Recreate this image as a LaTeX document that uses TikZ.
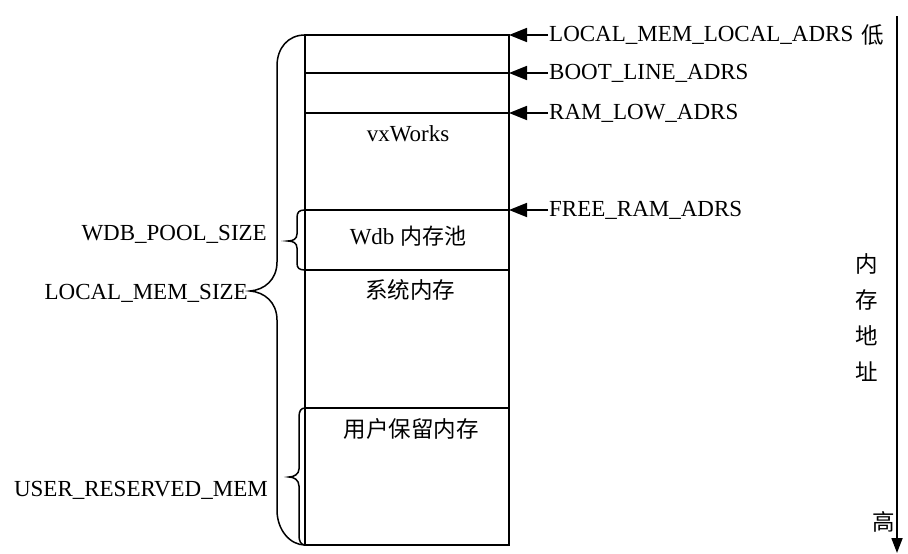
\documentclass[tikz,border=0pt]{standalone}
\usepackage{fontspec}
\setmainfont{Liberation Serif}
\newfontfamily\cjk{Noto Sans CJK SC}
\usetikzlibrary{arrows.meta}
\begin{document}
\begin{tikzpicture}[x=1pt,y=-1pt,
  mem/.style={line width=1.8pt},
  ptr/.style={line width=1.8pt,-{Triangle[length=18pt,width=14pt]}},
  axis/.style={line width=1.8pt,-{Triangle[length=15pt,width=11pt]}},
  lbl/.style={font=\fontsize{23}{26}\selectfont, inner sep=1pt},
  zh/.style={font=\fontsize{22.5}{36}\selectfont\cjk, inner sep=0pt},
  brace/.style={line width=1.5pt}]
\useasboundingbox (0,0) rectangle (908,554);
% memory column
\coordinate (tl) at (305,35);
\coordinate (tr) at (509,35);
\coordinate (bl) at (305,545);
\coordinate (br) at (509,545);
\draw[mem] (tl) -- (tr) -- (br) -- (bl) -- cycle;
\coordinate (bootL) at (305,73);  \coordinate (bootR) at (509,73);
\coordinate (ramL) at (305,113);  \coordinate (ramR) at (509,113);
\coordinate (freeL) at (305,210); \coordinate (freeR) at (509,210);
\coordinate (wdbL) at (305,270);  \coordinate (wdbR) at (509,270);
\coordinate (usrL) at (305,408);  \coordinate (usrR) at (509,408);
\draw[mem] (bootL) -- (bootR);
\draw[mem] (ramL) -- (ramR);
\draw[mem] (freeL) -- (freeR);
\draw[mem] (wdbL) -- (wdbR);
\draw[mem] (usrL) -- (usrR);
% region texts
\node[lbl] (vx) at (408,134) {vxWorks};
\node[lbl] (wdb) at (408,236) {Wdb {\cjk\fontsize{22}{24}\selectfont 内存池}};
\node[zh] (sys) at (410,290) {系统内存};
\node[zh] (usr) at (411,429) {用户保留内存};
% pointer labels
\node[lbl,anchor=west] (L1) at (548,35) {LOCAL\_MEM\_LOCAL\_ADRS};
\node[lbl,anchor=west] (L2) at (548,73) {BOOT\_LINE\_ADRS};
\node[lbl,anchor=west] (L3) at (548,113) {RAM\_LOW\_ADRS};
\node[lbl,anchor=west] (L4) at (548,210) {FREE\_RAM\_ADRS};
\draw[ptr] (L1.west) -- (tr);
\draw[ptr] (L2.west) -- (bootR);
\draw[ptr] (L3.west) -- (ramR);
\draw[ptr] (L4.west) -- (freeR);
% address axis
\coordinate (ax0) at (897,16);
\coordinate (ax1) at (897,553);
\draw[axis] (ax0) -- (ax1);
\node[zh] (low) at (873,35) {低};
\node[zh] (high) at (884,522) {高};
\node[zh,align=center] (addr) at (867,318) {内\\存\\地\\址};
% braces
\draw[brace] (tl) .. controls (288,35) and (277,48) .. (277,66)
  -- (277,262) .. controls (277,280) and (264,290) .. (250,291)
  .. controls (264,292) and (277,302) .. (277,320)
  -- (277,510) .. controls (277,530) and (290,545) .. (bl);
\draw[brace] (freeL) .. controls (299,210) and (297,212) .. (297,218)
  -- (297,234) .. controls (297,239) and (293,241) .. (288,241)
  .. controls (293,241) and (297,243) .. (297,248)
  -- (297,263) .. controls (297,268) and (299,270) .. (wdbL);
\draw[brace] (usrL) .. controls (301,408) and (299,411) .. (299,417)
  -- (299,469) .. controls (299,474) and (294,477) .. (289,477)
  .. controls (294,477) and (299,480) .. (299,486)
  -- (299,536) .. controls (299,541) and (301,545) .. (bl);
\node[lbl,anchor=east] (wps) at (268,234) {WDB\_POOL\_SIZE};
\node[lbl,anchor=east] (lms) at (249,293) {LOCAL\_MEM\_SIZE};
\node[lbl,anchor=east] (urm) at (269,490) {USER\_RESERVED\_MEM};
\end{tikzpicture}
\end{document}
